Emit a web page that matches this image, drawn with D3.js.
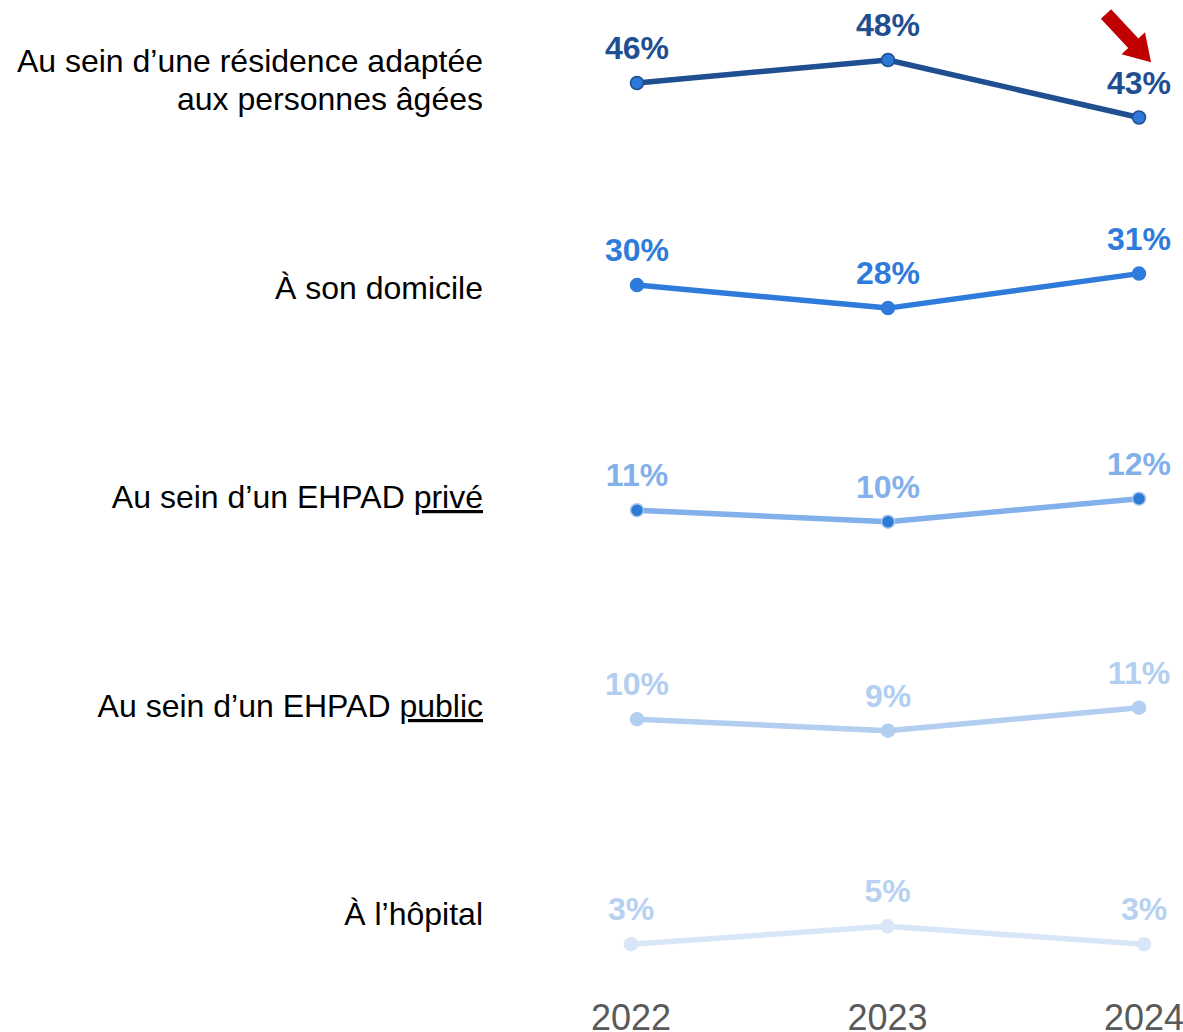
<!DOCTYPE html>
<html>
<head>
<meta charset="utf-8">
<script src="https://cdn.jsdelivr.net/npm/d3@7"></script>
<style>
  body { margin: 0; background: #fff; }
  svg text { font-family: "Liberation Sans", Arial, sans-serif; }
</style>
</head>
<body>
<svg id="chart" width="1183" height="1032"></svg>
<script>
// data
var years = ["2022", "2023", "2024"];
var categories = [
    ["Au sein d\u2019une résidence adaptée", "aux personnes âgées"],
    ["À son domicile"],
    ["Au sein d\u2019un EHPAD ", "privé"],
    ["Au sein d\u2019un EHPAD ", "public"],
    ["À l\u2019hôpital"]
];
var residence = [46, 48, 43];
var domicile  = [30, 28, 31];
var ehpadPrive  = [11, 10, 12];
var ehpadPublic = [10, 9, 11];
var hopital = [3, 5, 3];
var series = [residence, domicile, ehpadPrive, ehpadPublic, hopital];

// axis range of each small chart (like the original's separate panels)
var yMin = [36, 19.4, 1.8, 0.8, -7];
var yMax = [52, 35.4, 17.8, 16.8, 13.5];

// styles
var lineColors   = ["#1f4f91", "#2f7bdb", "#82b0ea", "#b2cef0", "#d8e6f8"];
var labelColors  = ["#1f4f91", "#2f7bdb", "#82b0ea", "#b2cef0", "#b6d1f1"];
var markerFill   = ["#2e78d8", "#2f7bdb", "#2e7bd6", "#b2cef0", "#d8e6f8"];
var markerStroke = ["#1f4f91", "#2f7bdb", "#a9c8ef", "#b2cef0", "#d8e6f8"];

var svg = d3.select("#chart");

var rowStep = 209, rowTop = 14, rowH = 184;

var xMain = d3.scalePoint().domain(years).range([637, 1139]);
var xWide = d3.scalePoint().domain(years).range([631, 1144]);

series.forEach(function(vals, i) {
    var top = rowTop + i * rowStep;
    var y = d3.scaleLinear().domain([yMin[i], yMax[i]]).range([top + rowH, top]);
    var x = (i == 4) ? xWide : xMain;
    var pts = years.map(function(yr, j) { return {year: yr, v: vals[j]}; });

    var g = svg.append("g");

    var line = d3.line()
        .x(function(d) { return x(d.year); })
        .y(function(d) { return y(d.v); });

    g.append("path")
        .datum(pts)
        .attr("d", line)
        .attr("fill", "none")
        .attr("stroke", lineColors[i])
        .attr("stroke-width", 5.5)
        .attr("stroke-linejoin", "round");

    g.selectAll("circle").data(pts).enter().append("circle")
        .attr("cx", function(d) { return x(d.year); })
        .attr("cy", function(d) { return y(d.v); })
        .attr("r", 6.5)
        .attr("fill", markerFill[i])
        .attr("stroke", markerStroke[i])
        .attr("stroke-width", 1.5);

    g.selectAll("text.val").data(pts).enter().append("text")
        .attr("class", "val")
        .attr("x", function(d) { return x(d.year); })
        .attr("y", function(d) { return y(d.v) - 24; })
        .attr("text-anchor", "middle")
        .attr("font-size", 32)
        .attr("font-weight", "bold")
        .attr("fill", labelColors[i])
        .text(function(d) { return d.v + "%"; });
});

// category labels
var labelX = 483;
var labelBase = [72, 299, 508, 717, 925];

categories.forEach(function(lab, i) {
    var t = svg.append("text")
        .attr("x", labelX)
        .attr("y", labelBase[i])
        .attr("text-anchor", "end")
        .attr("font-size", 32)
        .attr("fill", "#000");
    if (i == 0) {
        t.append("tspan").attr("x", labelX).text(lab[0]);
        t.append("tspan").attr("x", labelX).attr("dy", 38).text(lab[1]);
    } else if (i == 2 || i == 3) {
        t.append("tspan").text(lab[0]);
        t.append("tspan").attr("text-decoration", "underline").text(lab[1]);
    } else {
        t.text(lab[0]);
    }
});

// year axis
svg.append("g").selectAll("text").data(years).enter().append("text")
    .attr("x", function(d) { return xWide(d); })
    .attr("y", 1030)
    .attr("text-anchor", "middle")
    .attr("font-size", 36)
    .attr("fill", "#595959")
    .text(function(d) { return d; });

// red arrow (down trend on the first row)
var arrow = "M0,-7 L40,-7 L40,-16 L66,0 L40,16 L40,7 L0,7 Z";
svg.append("path")
    .attr("d", arrow)
    .attr("fill", "#c00000")
    .attr("transform", "translate(1106,14) rotate(47)");
</script>
</body>
</html>
